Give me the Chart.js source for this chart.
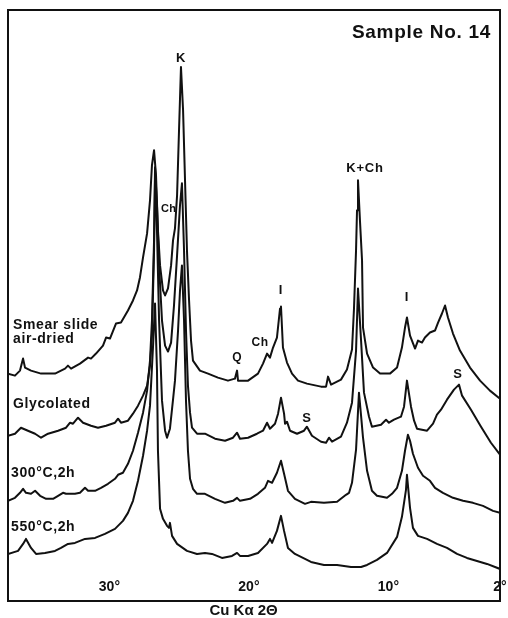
<!DOCTYPE html>
<html>
<head>
<meta charset="utf-8">
<script src="https://cdn.jsdelivr.net/npm/chart.js@4.4.1/dist/chart.umd.min.js"></script>
<style>
html, body { margin: 0; padding: 0; background: #fff; }
#wrap { width: 508px; height: 618px; }
</style>
</head>
<body>
<div id="wrap"><canvas id="xrd" width="508" height="618"></canvas></div>
<script>
// 2-theta (deg, Cu K-alpha) and intensity (arb. units, each scan already shifted up the page)
const smearTheta = [
37.27,36.77,36.41,36.19,36.05,35.62,34.90,33.90,33.18,32.97,
32.75,32.11,31.53,31.32,30.96,30.46,30.24,29.96,29.53,29.17,
28.67,28.31,28.02,27.81,27.59,27.30,27.09,26.95,26.80,26.66,
26.52,26.37,26.16,26.01,25.80,25.58,25.44,25.30,25.15,25.01,
24.87,24.72,24.58,24.44,24.29,24.15,24.01,23.51,22.93,22.22,
21.50,21.00,20.85,20.78,20.06,19.35,18.99,18.70,18.49,18.27,
17.99,17.77,17.70,17.56,17.27,16.91,16.48,15.84,14.83,14.47,
14.33,14.11,13.40,12.97,12.61,12.47,12.32,12.25,12.18,12.04,
11.89,11.82,11.53,11.10,10.60,9.89,9.38,9.03,8.81,8.67,
8.45,8.09,7.88,7.59,7.38,7.02,6.66,6.44,6.16,5.94,
5.73,5.37,4.87,4.15,3.43,2.72,2.00];
const smearInt = [
227,225,230,242,233,230,227,227,232,235,
232,237,243,242,247,255,263,262,277,278,
290,300,310,323,343,367,400,435,450,425,
370,335,310,305,312,335,360,372,405,470,
533,490,420,350,300,260,240,230,227,223,
220,222,230,220,220,227,237,247,243,253,
263,292,294,253,238,227,220,217,214,214,
224,216,221,231,251,291,350,390,420,380,
340,273,247,233,227,227,233,253,273,283,
265,252,260,258,263,268,270,278,287,295,
283,267,250,233,220,210,202];

const glycTheta = [
37.27,36.77,36.34,35.84,35.33,34.90,34.40,33.68,33.11,32.82,
32.61,32.25,31.89,31.32,30.82,30.24,29.60,29.38,29.17,28.67,
28.31,27.95,27.59,27.30,27.09,26.95,26.80,26.73,26.59,26.44,
26.23,26.01,25.80,25.58,25.37,25.15,24.94,24.80,24.65,24.51,
24.37,24.22,24.08,23.72,23.15,22.43,21.71,21.14,20.85,20.64,
20.06,19.42,18.99,18.70,18.49,18.13,17.91,17.70,17.48,17.41,
17.27,17.05,16.55,16.05,15.84,15.48,14.83,14.47,14.26,14.04,
13.40,12.97,12.61,12.32,12.18,11.96,11.75,11.39,11.18,10.53,
10.17,9.96,9.60,9.10,8.88,8.67,8.38,8.16,7.95,7.23,
6.80,6.52,6.23,5.80,5.30,4.94,4.72,4.08,3.36,2.65,
2.00];
const glycInt = [
165,167,173,170,167,163,167,170,173,178,
177,183,178,175,173,175,178,182,178,180,
187,195,205,215,235,265,350,433,395,335,
280,255,249,258,295,345,395,417,350,270,
215,188,173,167,167,162,160,163,168,162,
163,167,170,178,172,177,187,203,187,177,
179,170,167,170,174,165,159,158,163,159,
164,178,198,250,312,260,208,184,174,176,
181,178,181,184,194,220,194,180,172,170,
177,186,191,201,211,216,205,191,174,158,
146];

const heat300Theta = [
37.27,36.77,36.41,36.19,35.98,35.62,35.33,34.97,34.54,34.04,
33.68,33.33,33.11,32.47,32.11,31.75,31.53,31.03,30.60,30.10,
29.60,29.38,29.03,28.67,28.31,27.95,27.59,27.30,27.09,26.95,
26.80,26.73,26.59,26.44,26.23,26.01,25.87,25.66,25.44,25.30,
25.08,24.94,24.80,24.65,24.51,24.37,24.22,24.01,23.72,23.15,
22.43,21.71,21.14,20.85,20.64,19.92,19.35,18.85,18.63,18.34,
17.99,17.70,17.48,17.20,16.70,15.98,15.55,14.62,13.68,13.04,
12.82,12.61,12.32,12.11,11.96,11.82,11.53,11.18,10.82,10.10,
9.74,9.38,9.03,8.81,8.60,8.45,8.24,7.88,7.52,7.02,
6.66,6.09,5.37,4.65,3.94,3.22,2.50,2.00];
const heat300Int = [
100,103,108,112,108,107,110,105,102,102,
105,108,107,107,108,113,110,110,113,117,
122,126,128,137,150,168,188,210,240,280,
360,422,370,280,200,170,163,172,201,220,
270,310,335,280,200,150,122,112,107,107,
102,98,100,103,100,102,107,113,120,118,
128,140,127,110,102,97,99,98,99,106,
108,118,151,208,185,163,130,110,105,103,
107,113,130,150,166,160,147,133,125,120,
113,108,103,100,98,95,90,88];

const heat550Theta = [
37.27,36.55,36.19,35.98,35.62,35.26,34.62,33.90,33.47,32.97,
32.47,31.75,31.03,30.32,29.60,29.03,28.67,28.31,27.95,27.59,
27.30,27.09,26.87,26.73,26.59,26.52,26.37,26.16,25.87,25.73,
25.66,25.51,25.15,24.44,23.72,23.15,22.65,21.93,21.21,20.85,
20.64,20.06,19.35,18.70,18.49,18.34,17.99,17.70,17.48,17.20,
16.70,15.98,15.55,14.62,13.68,12.68,11.96,11.53,10.82,10.10,
9.38,9.03,8.74,8.67,8.45,8.24,7.88,7.23,6.52,5.80,
5.08,4.37,3.65,2.93,2.00];
const heat550Int = [
47,50,57,62,53,47,48,50,53,57,
58,62,63,67,72,80,88,100,120,145,
170,195,255,297,230,150,92,82,75,73,
78,65,57,50,47,48,47,43,45,48,
45,45,48,57,62,58,70,85,70,53,
47,42,39,36,36,34,34,36,41,48,
64,84,111,126,93,73,65,62,57,53,
47,43,40,37,32];

const xTicks = [30, 20, 10, 2];

// labels written on the plot, placed in data units
const peakNotes = [
  { text: 'K', x: 24.87, y: 538, kind: 'peak' },
  { text: 'Ch', x: 25.76, y: 388, kind: 'small' },
  { text: 'K+Ch', x: 11.68, y: 428, kind: 'peak' },
  { text: 'I', x: 17.70, y: 306, kind: 'peak' },
  { text: 'I', x: 8.67, y: 299, kind: 'peak' },
  { text: 'Q', x: 20.85, y: 240, kind: 'mid' },
  { text: 'Ch', x: 19.20, y: 255, kind: 'mid' },
  { text: 'S', x: 15.84, y: 179, kind: 'peak' },
  { text: 'S', x: 5.01, y: 223, kind: 'peak' }
];
const traceNotes = [
  { text: 'Smear slide', x: 36.91, y: 272, kind: 'trace' },
  { text: 'air-dried', x: 36.91, y: 258, kind: 'trace' },
  { text: 'Glycolated', x: 36.91, y: 193, kind: 'trace' },
  { text: '300°C,2h', x: 37.05, y: 124, kind: 'trace' },
  { text: '550°C,2h', x: 37.05, y: 70, kind: 'trace' },
  { text: 'Sample No. 14', x: 2.65, y: 562, kind: 'sample' }
];

const INK = '#111';
const FONT = '"Liberation Sans", Arial, Helvetica, sans-serif';
const NOTE_STYLE = {
  peak: { size: 13, align: 'center', spacing: 0.8 },
  mid: { size: 12, align: 'center', spacing: 0.5 },
  small: { size: 11, align: 'center', spacing: 0.3 },
  trace: { size: 14, align: 'left', spacing: 0.6 },
  sample: { size: 19, align: 'right', spacing: 0.7 }
};

function toPoints(theta, inten) {
  const n = Math.min(theta.length, inten.length);
  const pts = [];
  for (let i = 0; i < n; i++) pts.push({ x: theta[i], y: inten[i] });
  return pts;
}

function scan(label, theta, inten) {
  return {
    label: label,
    data: toPoints(theta, inten),
    borderColor: INK,
    borderWidth: 2,
    borderJoinStyle: 'round',
    pointRadius: 0,
    tension: 0,
    fill: false
  };
}

const notesPlugin = {
  id: 'xrdNotes',
  afterDraw(chart) {
    const ctx = chart.ctx;
    const xs = chart.scales.x, ys = chart.scales.y;
    ctx.save();
    ctx.fillStyle = INK;
    ctx.textBaseline = 'alphabetic';
    peakNotes.concat(traceNotes).forEach(function(n) {
      const st = NOTE_STYLE[n.kind];
      ctx.font = 'bold ' + st.size + 'px ' + FONT;
      ctx.letterSpacing = st.spacing + 'px';
      ctx.textAlign = st.align;
      ctx.fillText(n.text, xs.getPixelForValue(n.x), ys.getPixelForValue(n.y));
    });
    ctx.restore();
  }
};

function frameAxis(position, min, max, reverse) {
  return {
    type: 'linear', position: position, min: min, max: max, reverse: !!reverse,
    grid: { display: false, drawTicks: false },
    ticks: { display: false },
    border: { display: true, color: INK, width: 2 }
  };
}

const xMin = 2, xMax = 37.27;

new Chart(document.getElementById('xrd').getContext('2d'), {
  type: 'line',
  data: {
    datasets: [
      scan('Smear slide air-dried', smearTheta, smearInt),
      scan('Glycolated', glycTheta, glycInt),
      scan('300°C, 2h', heat300Theta, heat300Int),
      scan('550°C, 2h', heat550Theta, heat550Int)
    ]
  },
  options: {
    responsive: false,
    animation: false,
    devicePixelRatio: 1,
    layout: { padding: { top: 10, left: 8, right: 8, bottom: 0 } },
    plugins: { legend: { display: false }, tooltip: { enabled: false } },
    scales: {
      x: {
        type: 'linear', position: 'bottom', min: xMin, max: xMax, reverse: true,
        afterBuildTicks: function(s) { s.ticks = xTicks.map(function(v) { return { value: v }; }); },
        afterFit: function(s) { s.paddingRight = 0; s.paddingLeft = 0; },
        grid: { display: false, drawTicks: false },
        border: { display: true, color: INK, width: 2 },
        ticks: {
          color: INK, padding: 7, mirror: true, autoSkip: false, maxRotation: 0,
          font: { family: FONT, size: 14, weight: 'bold', lineHeight: 1 },
          callback: function(v) { return v + '°'; }
        },
        title: {
          display: true, text: 'Cu Kα 2Θ     ', color: INK,
          font: { family: FONT, size: 15, weight: 'bold', lineHeight: 1 },
          padding: { top: -12, bottom: 0 }
        }
      },
      x2: frameAxis('top', xMin, xMax, true),
      y: frameAxis('left', 0, 590),
      y2: frameAxis('right', 0, 590)
    }
  },
  plugins: [notesPlugin]
});
</script>
</body>
</html>
